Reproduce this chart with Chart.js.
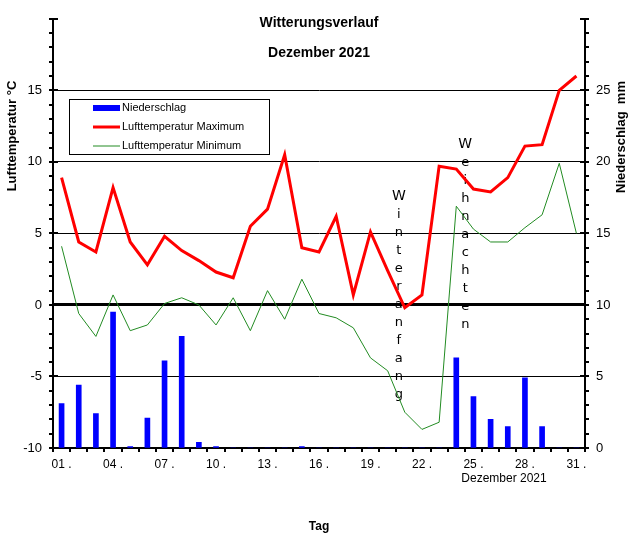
<!DOCTYPE html>
<html>
<head>
<meta charset="utf-8">
<script src="https://cdn.jsdelivr.net/npm/chart.js@4/dist/chart.umd.min.js"></script>
<style>
  body { margin: 0; background: #fff; }
  #wrap { width: 634px; height: 542px; }
</style>
</head>
<body>
<div id="wrap"><canvas id="chart" width="634" height="542"></canvas></div>
<script>
// Witterungsverlauf Dezember 2021

const days = ['01', '02', '03', '04', '05', '06', '07', '08', '09', '10', '11', '12', '13', '14', '15', '16',
  '17', '18', '19', '20', '21', '22', '23', '24', '25', '26', '27', '28', '29', '30', '31'];

// Niederschlag (mm), rechte Achse
const niederschlag = [3.1, 4.4, 2.4, 9.5, 0.1, 2.1, 6.1, 7.8, 0.4, 0.1, 0, 0, 0, 0, 0.1, 0,
  0, 0, 0, 0, 0, 0, 0, 6.3, 3.6, 2.0, 1.5, 4.9, 1.5, 0, 0];

// Lufttemperatur (°C), linke Achse
const tempMax = [8.9, 4.4, 3.7, 8.2, 4.4, 2.8, 4.8, 3.8, 3.1, 2.3, 1.9, 5.5, 6.7, 10.5, 4.0, 3.7,
  6.2, 0.7, 5.1, 2.4, -0.2, 0.7, 9.7, 9.5, 8.1, 7.9, 8.9, 11.1, 11.2, 15.0, 16.0];
const tempMin = [4.1, -0.6, -2.2, 0.7, -1.8, -1.4, 0.1, 0.5, 0.0, -1.4, 0.5, -1.8, 1.0, -1.0, 1.8, -0.6,
  -0.9, -1.6, -3.7, -4.6, -7.5, -8.7, -8.2, 6.9, 5.3, 4.4, 4.4, 5.4, 6.3, 9.9, 5.0];

const leftTicks = [15, 10, 5, 0, -5, -10];
const rightTicks = [25, 20, 15, 10, 5, 0];

// Senkrechte Beschriftungen
const notes = [
  { text: 'Winteranfang', day: '21' },
  { text: 'Weihnachten', day: '24' }
];

const FONT = '"Liberation Sans", Arial, sans-serif';

const overlay = {
  id: 'overlay',
  beforeDatasetsDraw(chart) {
    const ctx = chart.ctx;
    const x = chart.scales.x;
    const y = chart.scales.y;
    // Winteranfang / Weihnachten (unter den Linien)
    const place = [{ dx: -6, top: 7.6 }, { dx: 9, top: 11.2 }];
    ctx.save();
    ctx.textAlign = 'center';
    ctx.textBaseline = 'middle';
    ctx.fillStyle = '#000';
    notes.forEach((n, k) => {
      const px = x.getPixelForValue(days.indexOf(n.day)) + place[k].dx;
      const py0 = y.getPixelForValue(place[k].top);
      n.text.split('').forEach((ch, j) => {
        ctx.font = (j === 0 ? '14px' : '13px') + ' "DejaVu Sans", sans-serif';
        ctx.fillText(ch, px, py0 + j * 18);
      });
    });
    ctx.restore();
  },
  afterDatasetsDraw(chart) {
    const ctx = chart.ctx;
    // Legende
    ctx.save();
    ctx.fillStyle = '#fff';
    ctx.fillRect(69, 99, 200, 55);
    ctx.strokeStyle = '#000';
    ctx.lineWidth = 1;
    ctx.strokeRect(69.5, 99.5, 200, 55);
    ctx.font = '11px ' + FONT;
    ctx.textBaseline = 'middle';
    chart.data.datasets.forEach((ds, i) => {
      const cy = 108 + i * 19;
      if (ds.type === 'bar') {
        ctx.fillStyle = ds.backgroundColor;
        ctx.fillRect(93, cy - 3, 27, 6);
      } else {
        ctx.strokeStyle = ds.borderColor;
        ctx.lineWidth = ds.borderWidth;
        ctx.beginPath();
        ctx.moveTo(93, cy);
        ctx.lineTo(120, cy);
        ctx.stroke();
      }
      ctx.fillStyle = '#000';
      ctx.fillText(ds.label, 122, cy);
    });
    ctx.restore();
  },
  afterDraw(chart) {
    const ctx = chart.ctx;
    const area = chart.chartArea;
    const x = chart.scales.x;
    const y = chart.scales.y;
    const y1 = chart.scales.y1;

    ctx.save();
    ctx.strokeStyle = '#000';
    ctx.lineWidth = 2;
    ctx.beginPath();
    // Striche links
    y.ticks.forEach(t => {
      const py = Math.round(y.getPixelForValue(t.value));
      const major = t.value % 5 === 0;
      ctx.moveTo(area.left - 4, py);
      ctx.lineTo(area.left + (major ? 5 : 0), py);
    });
    // Striche rechts
    y1.ticks.forEach(t => {
      const py = Math.round(y1.getPixelForValue(t.value));
      const major = t.value % 5 === 0;
      ctx.moveTo(area.right - (major ? 5 : 0), py);
      ctx.lineTo(area.right + 4, py);
    });
    // Striche unten (Tagesgrenzen)
    const step = x.getPixelForValue(1) - x.getPixelForValue(0);
    for (let i = 0; i <= days.length; i++) {
      const px = Math.round(x.getPixelForValue(i) - step / 2);
      ctx.moveTo(px, area.bottom);
      ctx.lineTo(px, area.bottom + 4);
    }
    ctx.stroke();

    // Titel
    const cx = (area.left + area.right) / 2;
    ctx.fillStyle = '#000';
    ctx.textAlign = 'center';
    ctx.textBaseline = 'middle';
    ctx.font = 'bold 14px ' + FONT;
    ctx.fillText('Witterungsverlauf', cx, 23);
    ctx.fillText('Dezember 2021', cx, 53);

    ctx.font = 'bold 12px ' + FONT;
    ctx.fillText('Tag', cx, 527);

    ctx.font = '12px ' + FONT;
    ctx.fillText('Dezember 2021', 504, 479);

    ctx.font = 'bold 13px ' + FONT;
    ctx.save();
    ctx.translate(12, 136);
    ctx.rotate(-Math.PI / 2);
    ctx.fillText('Lufttemperatur °C', 0, 0);
    ctx.restore();
    ctx.save();
    ctx.translate(621, 137);
    ctx.rotate(-Math.PI / 2);
    ctx.fillText('Niederschlag  mm', 0, 0);
    ctx.restore();
    ctx.restore();
  }
};

function gridColor(c) {
  const v = c.tick && c.tick.value;
  if (v === 0 || (v % 5 === 0 && v < 20 && v > -10)) return '#000';
  return 'rgba(0,0,0,0)';
}

new Chart(document.getElementById('chart').getContext('2d'), {
  data: {
    labels: days,
    datasets: [
      {
        type: 'bar',
        label: 'Niederschlag',
        data: niederschlag,
        backgroundColor: '#0000ff',
        borderWidth: 0,
        barThickness: 5,
        yAxisID: 'y1',
        order: 3
      },
      {
        type: 'line',
        label: 'Lufttemperatur Maximum',
        data: tempMax,
        borderColor: '#ff0000',
        borderWidth: 3,
        pointRadius: 0,
        tension: 0,
        yAxisID: 'y',
        order: 1
      },
      {
        type: 'line',
        label: 'Lufttemperatur Minimum',
        data: tempMin,
        borderColor: '#228b22',
        borderWidth: 1,
        pointRadius: 0,
        tension: 0,
        yAxisID: 'y',
        order: 2
      }
    ]
  },
  options: {
    responsive: false,
    animation: false,
    layout: { padding: { top: 18, left: 0, right: 0, bottom: 0 } },
    plugins: {
      legend: { display: false },
      title: { display: false },
      tooltip: { enabled: false }
    },
    scales: {
      x: {
        offset: true,
        grid: { drawOnChartArea: false, drawTicks: false },
        border: { display: true, color: '#000', width: 2 },
        ticks: {
          autoSkip: false,
          maxRotation: 0,
          padding: 9,
          color: '#000',
          font: { family: FONT, size: 12 },
          callback: (v, i) => (i % 3 === 0 ? days[i] + ' .' : '')
        },
        afterFit: s => { s.height = 94; }
      },
      y: {
        position: 'left',
        min: -10,
        max: 20,
        ticks: {
          stepSize: 1,
          autoSkip: false,
          padding: 11,
          color: '#000',
          font: { family: FONT, size: 13 },
          callback: v => (leftTicks.includes(v) ? String(v) : '')
        },
        grid: {
          drawTicks: false,
          color: gridColor,
          lineWidth: c => (c.tick && c.tick.value === 0 ? 3 : 1)
        },
        border: { display: true, color: '#000', width: 2 },
        afterFit: s => { s.width = 53; }
      },
      y1: {
        position: 'right',
        min: 0,
        max: 30,
        ticks: {
          stepSize: 1,
          autoSkip: false,
          padding: 11,
          color: '#000',
          font: { family: FONT, size: 13 },
          callback: v => (rightTicks.includes(v) ? String(v) : '')
        },
        grid: { drawOnChartArea: false, drawTicks: false },
        border: { display: true, color: '#000', width: 2 },
        afterFit: s => { s.width = 49; }
      }
    }
  },
  plugins: [overlay]
});
</script>
</body>
</html>
